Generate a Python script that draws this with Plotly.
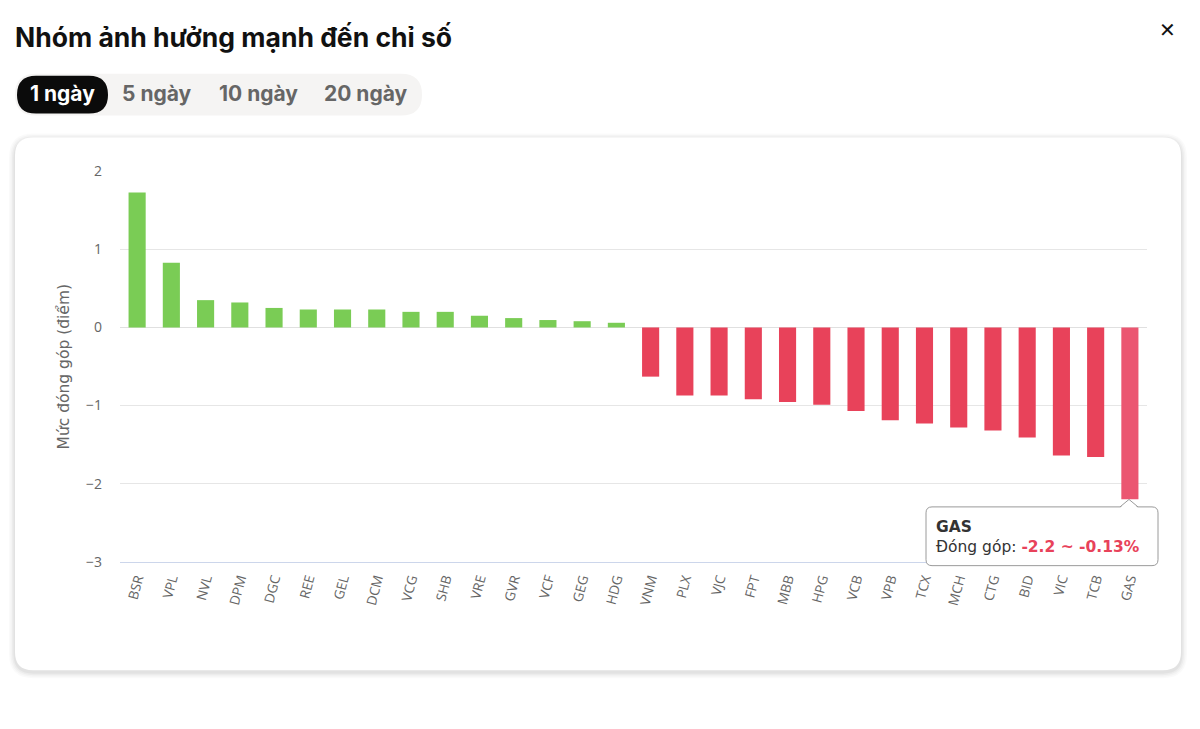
import plotly.graph_objects as go

# ---------------- data ----------------
tickers = ["BSR", "VPL", "NVL", "DPM", "DGC", "REE", "GEL", "DCM", "VCG", "SHB",
           "VRE", "GVR", "VCF", "GEG", "HDG", "VNM", "PLX", "VJC", "FPT", "MBB",
           "HPG", "VCB", "VPB", "TCX", "MCH", "CTG", "BID", "VIC", "TCB", "GAS"]
contrib = [1.73, 0.83, 0.35, 0.32, 0.25, 0.23, 0.23, 0.23, 0.20, 0.20,
           0.15, 0.12, 0.095, 0.08, 0.06, -0.63, -0.87, -0.87, -0.92, -0.955,
           -0.99, -1.07, -1.19, -1.23, -1.28, -1.32, -1.41, -1.64, -1.66, -2.2]
hover_ticker = "GAS"
hover_pct = "-0.13%"
y_ticks = [2, 1, 0, -1, -2, -3]
tabs = ["1 ngày", "5 ngày", "10 ngày", "20 ngày"]

W, H = 1200, 729
# observed rendering: paper area spans pixel rows 8 .. 721
PTOP, PH = 8, 713
GREEN = "#7acc55"
RED = "#e8425a"
RED_HOVER = "#eb5671"

def px(x):
    return x / W

def py(y):
    return 1 - (y - PTOP) / PH

def rrect(x0, y0, x1, y1, r):
    rx, ry = r / W, r / PH
    X0, X1 = px(x0), px(x1)
    Y0, Y1 = py(y0), py(y1)  # Y0 top (bigger), Y1 bottom
    return (f"M {X0+rx} {Y0} L {X1-rx} {Y0} Q {X1} {Y0} {X1} {Y0-ry} "
            f"L {X1} {Y1+ry} Q {X1} {Y1} {X1-rx} {Y1} "
            f"L {X0+rx} {Y1} Q {X0} {Y1} {X0} {Y1+ry} "
            f"L {X0} {Y0-ry} Q {X0} {Y0} {X0+rx} {Y0} Z")

colors = []
for t, v in zip(tickers, contrib):
    if v >= 0:
        colors.append(GREEN)
    elif t == hover_ticker:
        colors.append(RED_HOVER)
    else:
        colors.append(RED)

fig = go.Figure()
fig.add_trace(go.Bar(x=tickers, y=contrib, marker=dict(color=colors, line=dict(width=0)),
                     width=0.5, hoverinfo="skip"))

shapes = []
# card shadow
for i, op in enumerate([0.018, 0.022, 0.03, 0.04]):
    g = 6 - i * 1.5
    shapes.append(dict(type="path", xref="paper", yref="paper", layer="below",
                       path=rrect(15 - g, 136 - g + 2, 1181 + g, 671 + g + 2, 18 + g),
                       fillcolor=f"rgba(0,0,0,{op})", line=dict(width=0)))
shapes.append(dict(type="path", xref="paper", yref="paper", layer="below",
                   path=rrect(15, 136, 1181, 671, 18), fillcolor="white", line=dict(width=0)))
# tabs
shapes.append(dict(type="path", xref="paper", yref="paper", layer="below",
                   path=rrect(15, 72, 422, 114, 21), fillcolor="#f5f4f3", line=dict(width=0)))
shapes.append(dict(type="path", xref="paper", yref="paper", layer="above",
                   path=rrect(17, 74, 108, 112, 19), fillcolor="#0b0b0b", line=dict(width=0)))
# tooltip box
shapes.append(dict(type="path", xref="paper", yref="paper", layer="above",
                   path=rrect(926, 507, 1158, 566, 6), fillcolor="white",
                   line=dict(color="#9a9a9a", width=1)))
shapes.append(dict(type="path", xref="paper", yref="paper", layer="above",
                   path=f"M {px(1120)} {py(508)} L {px(1129)} {py(499.5)} L {px(1138)} {py(508)} Z",
                   fillcolor="white", line=dict(width=0)))
shapes.append(dict(type="path", xref="paper", yref="paper", layer="above",
                   path=f"M {px(1120)} {py(507)} L {px(1129)} {py(499.5)} L {px(1138)} {py(507)}",
                   line=dict(color="#9a9a9a", width=1)))

annotations = [
    dict(text="<b>Nhóm ảnh hưởng mạnh đến chỉ số</b>", x=px(13), y=py(35), xref="paper", yref="paper",
         xanchor="left", yanchor="middle", showarrow=False,
         font=dict(family="Inter", size=26.5, color="#111")),
    dict(text="<b>✕</b>", x=px(1167), y=py(28), xref="paper", yref="paper",
         xanchor="center", yanchor="middle", showarrow=False,
         font=dict(family="DejaVu Sans", size=20, color="#111")),
    dict(text="Mức đóng góp (điểm)", x=px(64), y=py(366), xref="paper", yref="paper",
         xanchor="center", yanchor="middle", showarrow=False, textangle=-90,
         font=dict(family="DejaVu Sans", size=15.5, color="#666")),
    dict(text=f"<b>{hover_ticker}</b><br>Đóng góp: <span style='color:{RED}'><b>"
              f"{contrib[tickers.index(hover_ticker)]:.1f} ~ {hover_pct}</b></span>",
         x=px(934), y=py(537), xref="paper", yref="paper", xanchor="left", yanchor="middle",
         align="left", showarrow=False,
         font=dict(family="DejaVu Sans", size=15.5, color="#333")),
]
tab_x = [62, 157, 258, 366]
for i, (t, tx) in enumerate(zip(tabs, tab_x)):
    annotations.append(dict(text=f"<b>{t}</b>", x=px(tx), y=py(92), xref="paper", yref="paper",
                            xanchor="center", yanchor="middle", showarrow=False,
                            font=dict(family="Inter", size=21, color="white" if i == 0 else "#666")))

fig.update_layout(
    width=W, height=H, autosize=False,
    margin=dict(l=0, r=0, t=0, b=0),
    paper_bgcolor="white", plot_bgcolor="rgba(0,0,0,0)",
    showlegend=False, bargap=0.5,
    shapes=shapes, annotations=annotations,
    xaxis=dict(domain=[px(120), px(1147)], tickangle=-75, showgrid=False,
               showline=True, linecolor="#ccd6eb", linewidth=1, ticks="",
               ticklabelstandoff=3,
               tickfont=dict(family="Open Sans", size=13.5, color="#666")),
    yaxis=dict(domain=[py(562), py(170)], range=[-3, 2], tickvals=y_ticks,
               showgrid=True, gridcolor="#e6e6e6", gridwidth=1,
               zeroline=True, zerolinecolor="#e0e0e0", zerolinewidth=1,
               ticklabelstandoff=17,
               tickfont=dict(family="Open Sans", size=14, color="#666")),
)

fig.write_html("out.html", config={"responsive": False})
